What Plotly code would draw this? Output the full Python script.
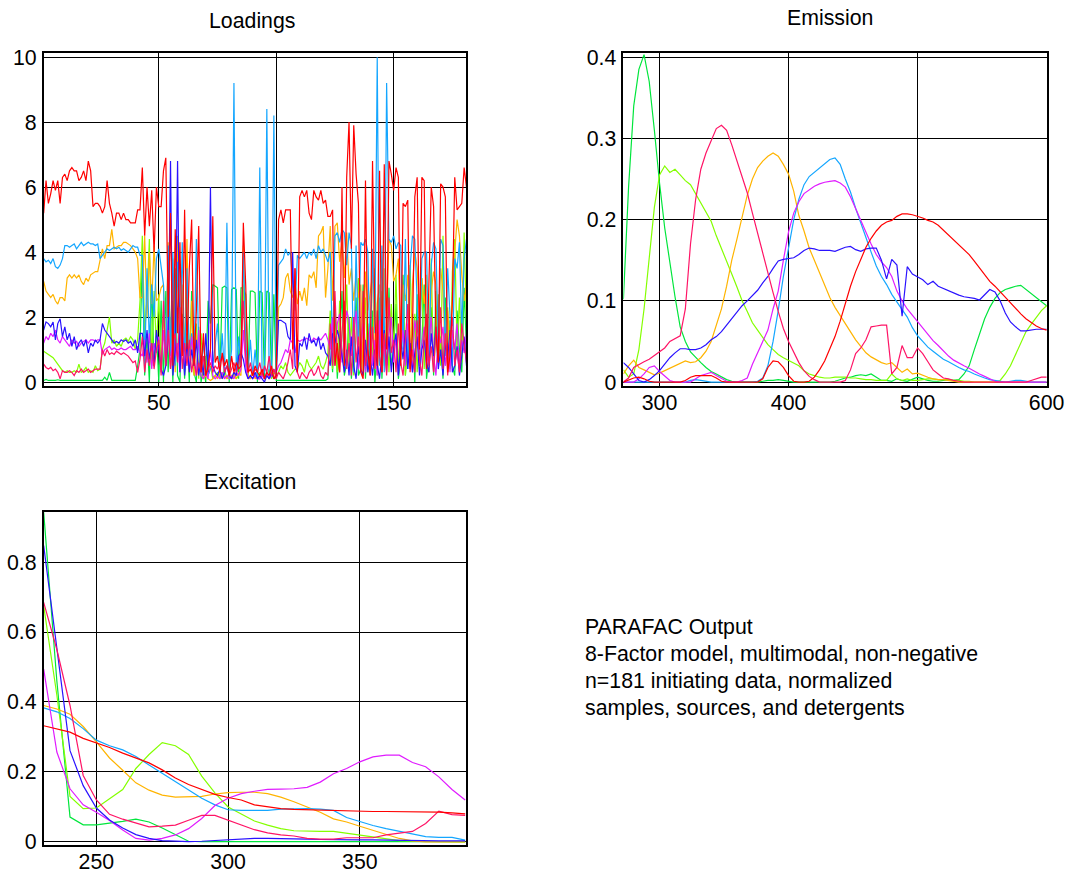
import plotly.graph_objects as go

# ---------------- Loadings (sample index 1..181) ----------------
sample_idx = list(range(1, 182))

load_red = [
    5.2, 6.2, 5.5, 5.8, 6.2, 5.9, 6.2, 5.5, 6.3, 6.4,
    6.2, 6.5, 6.6, 6.5, 6.5, 6.2, 6.3, 6.5, 6.2, 6.8,
    6.5, 5.4, 5.5, 5.5, 5.4, 5.2, 5.4, 6.2, 5.5, 5.2,
    4.8, 5.2, 5.2, 5.0, 5.2, 5.0, 5.0, 4.9, 4.9, 4.9,
    5.3, 5.3, 6.6, 4.5, 6.0, 4.8, 5.9, 4.0, 6.0, 5.4,
    5.4, 6.5, 6.9, 2.0, 5.2, 0.5, 4.7, 1.5, 4.3, 0.8,
    5.3, 1.0, 3.5, 5.0, 0.5, 2.2, 4.8, 0.3, 1.5, 0.2,
    0.5, 1.0, 5.1, 0.6, 0.8, 0.3, 0.9, 0.5, 0.7, 0.2,
    0.8, 0.3, 0.6, 0.4, 0.5, 4.9, 3.0, 0.3, 0.4, 0.2,
    0.5, 0.3, 0.2, 0.4, 0.1, 0.3, 0.2, 0.5, 0.1, 0.2,
    5.0, 5.3, 4.9, 5.3, 5.3, 5.3, 1.0, 3.5, 0.3, 5.7,
    5.9, 5.7, 5.9, 5.2, 5.0, 5.9, 5.7, 5.6, 5.9, 5.5,
    5.6, 5.1, 5.1, 5.3, 0.5, 1.2, 0.3, 6.0, 0.5, 6.3,
    8.0, 4.1, 7.9, 6.4, 5.5, 0.3, 0.1, 6.2, 1.0, 0.2,
    6.8, 2.0, 0.5, 6.5, 0.3, 6.7, 1.0, 6.8, 6.4, 5.9,
    6.6, 6.3, 0.5, 5.5, 5.4, 5.6, 0.3, 1.5, 5.7, 6.3,
    1.0, 6.3, 6.2, 0.4, 3.0, 6.0, 5.4, 1.5, 0.6, 6.1,
    6.0, 5.7, 0.3, 0.8, 2.5, 6.3, 5.3, 5.4, 5.5, 6.6,
    6.0,
]
load_sky = [
    3.8, 3.7, 3.75, 3.65, 3.8, 3.55, 3.5, 3.6, 3.8, 4.2,
    4.2, 4.15, 4.2, 4.25, 4.1, 4.2, 4.3, 4.2, 4.25, 4.3,
    4.25, 4.25, 4.2, 4.25, 3.8, 3.9, 4.0, 4.1, 4.05, 4.1,
    4.15, 4.1, 4.15, 4.05, 4.1, 4.05, 4.0, 4.1, 4.2, 4.15,
    4.15, 3.9, 3.9, 0.5, 3.5, 1.2, 3.0, 2.0, 3.8, 4.1,
    3.6, 3.0, 0.5, 4.2, 0.8, 4.0, 0.5, 3.7, 1.0, 4.3,
    0.3, 3.5, 0.8, 1.5, 0.5, 4.4, 1.0, 0.3, 1.2, 0.5,
    0.2, 0.4, 0.5, 1.2, 1.8, 0.3, 1.5, 0.2, 4.9, 0.3,
    1.0, 9.2, 0.2, 1.4, 0.5, 4.0, 1.2, 0.3, 1.3, 0.2,
    1.0, 0.1, 6.6, 0.2, 0.3, 8.4, 0.1, 0.2, 8.2, 0.3,
    3.6, 3.7, 3.8, 4.1, 3.9, 4.0, 3.2, 2.2, 3.9, 3.8,
    3.9, 4.0, 3.8, 4.0, 3.9, 4.1, 3.8, 4.2, 4.0, 4.1,
    3.9, 3.7, 4.0, 0.8, 4.5, 4.6, 4.3, 4.7, 4.6, 3.6,
    4.6, 4.2, 0.3, 4.2, 1.0, 4.3, 4.2, 4.4, 4.0, 0.5,
    4.1, 1.5, 10.0, 0.5, 4.2, 0.3, 9.2, 4.4, 4.3, 4.5,
    4.1, 4.3, 4.2, 1.0, 4.4, 0.4, 3.5, 4.5, 4.4, 2.5,
    0.5, 3.8, 4.0, 4.0, 0.5, 3.6, 4.3, 4.1, 1.2, 4.4,
    4.2, 0.8, 3.5, 2.0, 0.5, 3.8, 3.5, 4.3, 1.5, 3.8,
    4.4,
]
load_orange = [
    3.1, 2.8, 2.7, 2.6, 2.7, 2.5, 2.4, 2.6, 2.6, 2.5,
    3.2, 3.3, 3.2, 3.3, 3.2, 3.3, 3.1, 3.0, 3.2, 3.1,
    3.3, 3.35, 3.4, 3.4, 3.8, 4.1, 3.8, 4.2, 4.2, 4.7,
    4.1, 4.15, 4.2, 4.2, 4.3, 4.3, 4.25, 4.2, 4.1, 4.0,
    3.8, 2.6, 2.6, 4.5, 2.0, 4.0, 2.4, 4.2, 2.5, 2.6,
    2.9, 3.0, 0.5, 4.3, 1.0, 3.8, 0.3, 4.5, 1.2, 3.0,
    0.8, 4.4, 0.3, 2.5, 0.2, 1.5, 0.3, 0.8, 0.1, 0.2,
    0.1, 0.05, 0.1, 0.2, 0.1, 0.3, 0.1, 0.2, 0.1, 0.3,
    0.1, 0.2, 0.1, 0.3, 0.2, 4.2, 1.0, 0.2, 0.1, 0.3,
    0.1, 0.2, 0.1, 0.3, 0.1, 0.2, 0.1, 0.3, 0.2, 0.1,
    2.3, 2.4, 2.6, 3.2, 3.35, 2.8, 2.6, 3.0, 2.4, 2.8,
    2.5, 2.9, 2.35, 3.3, 3.2, 3.4, 2.9, 4.5, 4.6, 4.8,
    2.6, 3.5, 4.8, 2.5, 4.8, 4.9, 3.7, 4.3, 3.2, 4.6,
    3.0, 3.5, 2.5, 3.3, 2.6, 3.0, 0.2, 3.4, 2.2, 2.8,
    3.3, 0.4, 2.4, 3.0, 1.0, 3.5, 2.0, 4.4, 4.2, 3.1,
    3.3, 3.8, 1.2, 3.0, 2.5, 3.3, 0.5, 3.0, 4.0, 3.5,
    2.0, 3.2, 2.4, 3.3, 0.3, 2.8, 3.4, 3.0, 1.5, 3.5,
    2.8, 0.8, 2.2, 1.0, 2.5, 4.0, 5.0, 4.5, 3.3, 2.5,
    3.0,
]
load_blue = [
    1.6, 1.85, 1.8, 1.7, 1.85, 1.3, 1.8, 1.95, 1.4, 1.7,
    1.3, 1.5, 1.1, 1.4, 1.0, 1.2, 1.3, 1.1, 1.3, 0.9,
    1.2, 1.1, 1.3, 1.2, 1.3, 1.8, 1.6, 1.5, 1.4, 1.3,
    1.2, 1.25, 1.2, 1.3, 1.25, 1.3, 1.2, 1.25, 1.1, 1.3,
    0.9, 1.5, 1.5, 0.8, 1.6, 0.7, 1.2, 0.5, 1.6, 1.0,
    0.4, 0.2, 0.5, 1.3, 6.8, 0.2, 1.0, 6.8, 0.3, 1.5,
    0.2, 1.2, 0.3, 1.0, 0.5, 1.3, 0.2, 0.8, 0.2, 1.5,
    0.3, 6.0, 0.5, 0.3, 0.2, 0.4, 0.1, 0.3, 0.5, 0.2,
    0.1, 0.3, 0.2, 0.8, 0.9, 0.7, 0.3, 0.1, 0.2, 0.1,
    0.3, 0.1, 0.2, 0.1, 0.0, 0.2, 0.1, 0.3, 0.1, 0.2,
    1.9, 1.9, 1.85, 1.8, 1.4, 1.3, 4.0, 0.5, 0.3, 1.2,
    1.1, 1.4, 1.0, 1.5, 1.2, 1.3, 1.1, 1.4, 1.0, 1.2,
    0.9, 0.8, 0.5, 1.5, 1.2, 1.6, 1.3, 0.8, 0.3, 1.0,
    0.2, 1.4, 0.5, 0.1, 1.1, 0.4, 0.2, 1.3, 0.3, 0.8,
    0.2, 1.0, 0.6, 0.1, 0.9, 1.6, 0.5, 1.4, 0.3, 1.1,
    1.5, 0.2, 1.3, 0.7, 1.6, 0.4, 1.2, 0.3, 0.9, 1.4,
    0.2, 1.0, 1.3, 0.6, 0.3, 1.5, 0.8, 1.7, 0.4, 1.0,
    0.2, 1.2, 0.7, 1.6, 0.3, 0.5, 1.1, 0.2, 0.8, 1.4,
    0.5,
]
load_magenta = [
    1.2, 1.4, 1.3, 1.5, 1.4, 1.6, 1.3, 1.2, 1.4, 1.3,
    1.2, 1.1, 1.3, 1.2, 1.25, 1.1, 1.2, 1.25, 1.3, 1.2,
    1.3, 1.3, 1.25, 1.3, 1.3, 0.85, 1.0, 1.05, 1.1, 1.0,
    1.05, 1.0, 1.0, 1.05, 1.0, 1.0, 1.05, 1.1, 1.0, 1.0,
    1.1, 0.9, 0.8, 1.3, 0.6, 1.5, 0.4, 1.2, 0.9, 1.4,
    0.3, 1.6, 0.5, 1.9, 0.4, 1.5, 0.8, 1.2, 0.3, 1.7,
    0.5, 1.0, 0.4, 1.4, 0.6, 0.2, 1.6, 0.2, 0.1, 0.3,
    0.1, 1.0, 0.2, 0.1, 0.2, 0.1, 0.3, 0.1, 0.2, 0.1,
    0.2, 0.1, 0.3, 0.2, 0.4, 1.6, 0.5, 0.1, 0.2, 0.1,
    0.2, 0.1, 0.1, 0.2, 0.1, 0.3, 0.1, 0.2, 0.4, 0.3,
    0.5, 0.6, 0.8, 1.0, 0.9, 1.3, 1.2, 0.9, 1.3, 1.25,
    1.3, 1.3, 1.35, 1.3, 1.25, 1.35, 1.3, 1.35, 1.3, 1.4,
    1.5, 1.3, 1.0, 2.0, 0.5, 1.8, 2.1, 0.6, 1.5, 2.2,
    1.9, 0.8, 1.6, 2.2, 0.4, 1.2, 1.8, 0.3, 1.0, 1.7,
    0.5, 1.3, 0.2, 1.9, 0.7, 1.1, 0.3, 1.5, 2.0, 0.6,
    1.4, 0.2, 1.0, 1.6, 0.5, 1.8, 1.2, 0.3, 1.9, 1.4,
    0.6, 1.1, 1.7, 0.4, 1.3, 2.0, 0.8, 0.2, 1.5, 1.2,
    1.7, 0.5, 1.2, 0.3, 1.6, 1.0, 1.8, 0.4, 1.3, 0.9,
    1.5,
]
load_chartreuse = [
    0.95, 0.9, 0.85, 0.8, 0.75, 0.65, 0.55, 0.45, 0.35, 0.3,
    0.35, 0.3, 0.3, 0.35, 0.3, 0.55, 0.3, 0.35, 0.45, 0.3,
    0.35, 0.3, 0.5, 0.35, 0.4, 1.0, 1.2, 1.6, 2.0, 1.2,
    1.3, 1.1, 1.2, 1.1, 1.3, 1.35, 1.25, 1.4, 1.3, 1.0,
    1.3, 2.5, 4.5, 1.5, 2.6, 4.4, 0.5, 2.8, 1.0, 2.7,
    0.3, 2.2, 0.5, 3.8, 0.8, 2.5, 1.5, 4.3, 0.3, 2.0,
    0.8, 3.3, 0.6, 1.2, 0.2, 1.8, 0.1, 1.5, 0.3, 0.8,
    0.2, 0.5, 0.1, 0.2, 0.3, 0.1, 0.2, 0.4, 0.1, 0.2,
    0.1, 0.3, 0.1, 0.2, 0.5, 3.0, 0.8, 0.2, 0.1, 0.3,
    0.2, 0.1, 0.3, 0.2, 0.1, 0.2, 0.4, 0.1, 0.3, 0.2,
    0.3, 0.5, 0.4, 0.6, 0.3, 0.2, 0.3, 0.4, 0.4, 0.6,
    0.5, 0.3, 0.7, 0.5, 0.4, 0.5, 0.6, 0.8, 0.5, 0.4,
    0.6, 0.9, 2.2, 0.4, 1.6, 0.3, 2.5, 0.8, 1.2, 3.0,
    0.5, 2.0, 0.2, 1.5, 3.2, 0.4, 1.1, 2.6, 0.3, 1.8,
    0.6, 3.5, 0.2, 1.4, 2.8, 0.5, 1.9, 0.3, 2.4, 1.0,
    3.3, 0.4, 1.7, 2.9, 0.2, 1.3, 3.6, 0.6, 2.1, 0.3,
    1.5, 3.2, 0.4, 2.0, 1.1, 3.8, 0.3, 1.6, 2.7, 0.5,
    4.5, 1.2, 2.3, 0.4, 3.4, 4.4, 1.0, 2.6, 0.6, 4.6,
    1.8,
]
load_crimson = [
    0.55, 0.45, 0.4, 0.45, 0.35, 0.4, 0.3, 0.1, 0.35, 0.3,
    0.3, 0.35, 0.3, 0.2, 0.35, 0.3, 0.4, 0.3, 0.35, 0.4,
    0.3, 0.35, 0.4, 0.4, 0.4, 1.0, 0.8, 1.0, 0.85, 0.9,
    0.85, 0.95, 0.9, 0.85, 0.9, 0.85, 0.8, 0.7, 0.6, 0.65,
    0.3, 0.7, 1.4, 0.3, 1.0, 0.5, 1.2, 0.4, 1.0, 1.3,
    0.2, 2.5, 0.5, 1.6, 0.4, 1.2, 1.5, 0.6, 2.3, 0.4,
    1.2, 0.5, 1.3, 0.3, 0.8, 0.2, 0.6, 0.3, 0.8, 0.2,
    0.4, 0.6, 0.3, 0.5, 0.4, 0.6, 0.8, 0.3, 0.5, 0.2,
    0.4, 0.6, 0.3, 0.5, 1.0, 2.5, 0.8, 0.3, 0.6, 0.2,
    0.4, 0.3, 0.6, 0.2, 0.5, 0.3, 0.8, 0.2, 0.4, 0.1,
    0.3, 0.2, 0.1, 0.3, 0.6, 1.0, 0.4, 3.5, 0.3, 0.1,
    0.3, 0.2, 0.1, 0.3, 0.4, 0.2, 0.3, 0.5, 0.2, 0.1,
    0.3, 0.2, 1.8, 0.5, 2.8, 0.8, 0.3, 1.5, 2.5, 0.4,
    1.2, 0.2, 2.0, 0.6, 1.4, 0.3, 2.8, 0.5, 1.0, 0.2,
    1.7, 0.4, 2.2, 0.8, 0.3, 1.5, 0.2, 2.6, 0.9, 1.3,
    0.3, 1.8, 0.6, 0.2, 1.2, 2.4, 0.4, 1.0, 0.3, 1.9,
    0.7, 0.2, 1.4, 2.1, 0.5, 1.1, 0.3, 1.7, 0.6, 2.3,
    0.4, 1.5, 0.2, 1.3, 2.0, 0.5, 1.0, 0.3, 1.8, 1.2,
    0.6,
]
load_green = [
    0.05, 0.08, 0.05, 0.06, 0.05, 0.05, 0.07, 0.05, 0.05, 0.06,
    0.05, 0.05, 0.06, 0.05, 0.05, 0.05, 0.06, 0.05, 0.05, 0.05,
    0.05, 0.05, 0.05, 0.05, 0.05, 0.05, 0.15, 0.05, 0.3, 0.05,
    0.05, 0.05, 0.05, 0.05, 0.05, 0.05, 0.05, 0.05, 0.05, 0.05,
    0.5, 1.0, 3.9, 0.2, 1.4, 0.0, 3.0, 0.5, 1.6, 0.0,
    2.5, 0.0, 2.8, 0.3, 2.0, 0.0, 3.5, 0.2, 0.0, 2.1,
    0.1, 1.5, 0.0, 2.8, 0.3, 0.0, 1.7, 0.0, 0.4, 0.0,
    2.5, 1.8, 3.0, 2.95, 2.9, 0.1, 2.9, 2.95, 2.9, 0.0,
    2.85, 2.9, 2.85, 0.1, 2.9, 2.9, 2.7, 0.2, 2.8, 2.8,
    2.75, 0.0, 2.8, 2.75, 0.1, 2.8, 2.75, 0.2, 2.7, 0.05,
    0.05, 0.05, 0.06, 0.05, 0.05, 0.05, 0.05, 0.06, 0.05, 0.05,
    0.05, 0.05, 0.05, 0.06, 0.05, 0.05, 0.05, 0.05, 0.06, 0.05,
    0.05, 0.1, 1.5, 0.3, 2.4, 0.1, 1.2, 2.8, 0.2, 0.6,
    2.0, 0.1, 1.1, 2.6, 0.2, 0.4, 3.0, 0.1, 1.8, 0.5,
    2.2, 0.0, 0.9, 2.6, 0.1, 1.6, 0.3, 2.9, 0.5, 1.0,
    2.4, 0.1, 0.7, 3.3, 0.2, 1.5, 0.4, 2.1, 0.0, 2.7,
    0.5, 1.2, 3.0, 0.1, 0.8, 2.3, 0.2, 2.8, 0.6, 1.4,
    0.1, 2.6, 0.3, 1.9, 0.5, 0.2, 2.2, 1.0, 0.3, 2.9,
    1.0,
]

# ---------------- Emission spectra (nm) ----------------
em_wl = list(range(272, 601, 4))

em_green = [
    0.102, 0.24, 0.34, 0.385, 0.403, 0.37, 0.31, 0.245, 0.19, 0.145,
    0.105, 0.068, 0.05, 0.037, 0.03, 0.024, 0.018, 0.013, 0.01, 0.006,
    0.003, 0.001, 0.0, 0.0, 0.0, 0.0, 0.0, 0.001, 0.002, 0.002,
    0.003, 0.002, 0.001, 0.0, 0.0, 0.0, 0.0, 0.0, 0.0, 0.0,
    0.0, 0.001, 0.003, 0.005, 0.006, 0.008, 0.009, 0.008, 0.01, 0.006,
    0.002, 0.002, 0.001, 0.004, 0.002, 0.001, 0.004, 0.006, 0.004, 0.002,
    0.001, 0.001, 0.002, 0.003, 0.002, 0.003, 0.01, 0.02, 0.04, 0.058,
    0.078, 0.092, 0.103, 0.11, 0.114, 0.116, 0.118, 0.119, 0.114, 0.108,
    0.104, 0.098, 0.094,
]
em_chartreuse = [
    0.015, 0.006, 0.01, 0.04, 0.09, 0.15, 0.215, 0.255, 0.266, 0.258,
    0.262, 0.255, 0.248, 0.243, 0.232, 0.22, 0.21, 0.198, 0.18, 0.165,
    0.15, 0.133, 0.117, 0.1, 0.087, 0.073, 0.064, 0.055, 0.046, 0.04,
    0.034, 0.03, 0.027, 0.024, 0.02, 0.014, 0.01, 0.008, 0.006, 0.005,
    0.005, 0.006, 0.006, 0.006, 0.005, 0.005, 0.004, 0.003, 0.003, 0.002,
    0.002, 0.002, 0.01, 0.004, 0.002, 0.004, 0.002, 0.002, 0.003, 0.004,
    0.004, 0.003, 0.003, 0.003, 0.002, 0.002, 0.001, 0.001, 0.0, 0.0,
    0.0, 0.0, 0.0, 0.002, 0.01, 0.02, 0.034, 0.048, 0.062, 0.071,
    0.08, 0.088, 0.094,
]
em_crimson = [
    0.0, 0.005, 0.018, 0.022, 0.025, 0.028, 0.033, 0.037, 0.042, 0.05,
    0.054, 0.057, 0.09, 0.17, 0.225, 0.262, 0.282, 0.298, 0.312, 0.316,
    0.31, 0.292, 0.272, 0.252, 0.233, 0.208, 0.183, 0.158, 0.133, 0.11,
    0.087, 0.066, 0.05, 0.036, 0.024, 0.014, 0.007, 0.003, 0.0, 0.0,
    0.0, 0.0, 0.0, 0.002, 0.015, 0.035, 0.042, 0.052, 0.068, 0.069,
    0.07, 0.07, 0.01, 0.018, 0.045, 0.03, 0.03, 0.042, 0.035, 0.025,
    0.015, 0.01, 0.005, 0.004, 0.002, 0.001, 0.0, 0.0, 0.0, 0.0,
    0.0, 0.0, 0.0, 0.0, 0.0, 0.0, 0.0, 0.0, 0.0, 0.002,
    0.004, 0.006, 0.006,
]
em_orange = [
    0.01, 0.02, 0.027, 0.018, 0.015, 0.012, 0.009, 0.011, 0.014, 0.018,
    0.021, 0.024, 0.026, 0.024, 0.025, 0.03, 0.038, 0.05, 0.07, 0.09,
    0.118, 0.15, 0.176, 0.205, 0.23, 0.25, 0.264, 0.272, 0.278, 0.282,
    0.278, 0.268, 0.256, 0.235, 0.205, 0.186, 0.165, 0.15, 0.135, 0.118,
    0.104, 0.092, 0.082, 0.072, 0.061, 0.052, 0.044, 0.036, 0.031, 0.027,
    0.024, 0.022, 0.024, 0.018, 0.012, 0.016, 0.01, 0.011, 0.008, 0.006,
    0.004, 0.003, 0.003, 0.002, 0.001, 0.0, 0.0, 0.0, 0.0, 0.0,
    0.0, 0.0, 0.0, 0.0, 0.0, 0.0, 0.0, 0.0, 0.0, 0.0,
    0.0, 0.0, 0.0,
]
em_blue = [
    0.024, 0.018, 0.01, 0.002, 0.0, 0.003, 0.008, 0.014, 0.022, 0.03,
    0.036, 0.041, 0.041, 0.04, 0.04, 0.042, 0.046, 0.052, 0.056, 0.062,
    0.07, 0.078, 0.086, 0.094, 0.1, 0.106, 0.113, 0.122, 0.13, 0.14,
    0.149, 0.151, 0.152, 0.153, 0.157, 0.162, 0.165, 0.164, 0.162, 0.162,
    0.162, 0.161, 0.164, 0.166, 0.167, 0.163, 0.161, 0.164, 0.165, 0.165,
    0.15, 0.127, 0.151, 0.144, 0.081, 0.142, 0.133, 0.13, 0.126, 0.12,
    0.124, 0.118, 0.115, 0.112, 0.109, 0.107, 0.105, 0.104, 0.103, 0.101,
    0.108, 0.114, 0.111, 0.1, 0.085, 0.074, 0.068, 0.063, 0.063, 0.064,
    0.065, 0.065, 0.065,
]
em_sky = [
    0.0, 0.0, 0.0, 0.0, 0.0, 0.0, 0.0, 0.0, 0.0, 0.0,
    0.0, 0.0, 0.0, 0.002, 0.003, 0.002, 0.001, 0.0, 0.0, 0.0,
    0.0, 0.0, 0.0, 0.0, 0.0, 0.0, 0.001, 0.005, 0.02, 0.05,
    0.088, 0.13, 0.165, 0.2, 0.225, 0.243, 0.253, 0.258, 0.263, 0.268,
    0.274, 0.276, 0.268, 0.25, 0.234, 0.214, 0.195, 0.178, 0.16, 0.143,
    0.13, 0.12, 0.108, 0.099, 0.09, 0.08, 0.067, 0.057, 0.05, 0.043,
    0.038, 0.033, 0.028, 0.025, 0.021, 0.018, 0.015, 0.013, 0.01, 0.007,
    0.005, 0.003, 0.002, 0.001, 0.0, 0.001, 0.002, 0.002, 0.001, 0.0,
    0.0, 0.0, 0.0,
]
em_magenta = [
    0.0, 0.0, 0.0, 0.004, 0.01, 0.018, 0.02, 0.013, 0.007, 0.002,
    0.0, 0.0, 0.0, 0.0, 0.004, 0.008, 0.01, 0.012, 0.008, 0.004,
    0.001, 0.0, 0.0, 0.002, 0.005, 0.022, 0.036, 0.048, 0.064, 0.09,
    0.112, 0.15, 0.185, 0.208, 0.222, 0.232, 0.237, 0.241, 0.244, 0.246,
    0.247, 0.248, 0.245, 0.24, 0.228, 0.213, 0.198, 0.184, 0.17, 0.157,
    0.148, 0.141, 0.13, 0.112, 0.1, 0.09, 0.082, 0.074, 0.066, 0.058,
    0.051, 0.045, 0.038, 0.032, 0.027, 0.023, 0.02, 0.017, 0.013, 0.01,
    0.007, 0.004, 0.001, 0.0, 0.0, 0.0, 0.0, 0.0, 0.0, 0.0,
    0.0, 0.0, 0.0,
]
em_red = [
    0.0, 0.003, 0.005, 0.006, 0.004, 0.001, 0.0, 0.0, 0.0, 0.0,
    0.0, 0.0, 0.002, 0.006, 0.008, 0.008, 0.008, 0.008, 0.005, 0.001,
    0.0, 0.0, 0.0, 0.0, 0.0, 0.0, 0.0, 0.004, 0.018, 0.026,
    0.025, 0.018, 0.008, 0.001, 0.0, 0.0, 0.001, 0.006, 0.015, 0.026,
    0.04, 0.056, 0.075, 0.098, 0.118, 0.136, 0.152, 0.166, 0.177, 0.186,
    0.193, 0.197, 0.199, 0.204, 0.207, 0.207, 0.206, 0.204, 0.202, 0.199,
    0.197, 0.193, 0.187, 0.182, 0.176, 0.17, 0.164, 0.157, 0.149, 0.141,
    0.133, 0.124, 0.118, 0.111, 0.104, 0.097, 0.09, 0.084, 0.078, 0.073,
    0.069, 0.066, 0.064,
]

# ---------------- Excitation spectra (nm) ----------------
ex_wl = list(range(230, 391, 5))

ex_green = [
    0.942, 0.46, 0.071, 0.049, 0.049, 0.053, 0.059, 0.065, 0.057, 0.04,
    0.02, 0.002, 0.001, 0.001, 0.001, 0.001, 0.001, 0.001, 0.001, 0.001,
    0.001, 0.001, 0.001, 0.001, 0.001, 0.001, 0.001, 0.001, 0.001, 0.001,
    0.001, 0.001, 0.001,
]
ex_chartreuse = [
    0.675, 0.42, 0.13, 0.095, 0.097, 0.123, 0.15, 0.21, 0.25, 0.284,
    0.275, 0.25, 0.188, 0.14, 0.1, 0.08, 0.06, 0.048, 0.038, 0.032,
    0.03, 0.03, 0.03, 0.025, 0.02, 0.015, 0.008, 0.004, 0.002, 0.001,
    0.0, 0.0, 0.0,
]
ex_red = [
    0.332, 0.322, 0.314, 0.296, 0.283, 0.27, 0.254, 0.24, 0.226, 0.206,
    0.183, 0.164, 0.15, 0.136, 0.127, 0.12, 0.106, 0.1, 0.095, 0.093,
    0.092, 0.09, 0.088, 0.087, 0.087, 0.087, 0.087, 0.087, 0.087, 0.087,
    0.085, 0.083, 0.08,
]
ex_sky = [
    0.383, 0.372, 0.353, 0.324, 0.291, 0.275, 0.263, 0.244, 0.22, 0.196,
    0.172, 0.148, 0.125, 0.106, 0.092, 0.09, 0.09, 0.09, 0.094, 0.095,
    0.095, 0.094, 0.09, 0.07, 0.058, 0.047, 0.038, 0.03, 0.022, 0.015,
    0.013, 0.013, 0.005,
]
ex_orange = [
    0.39, 0.38, 0.365, 0.33, 0.286, 0.24, 0.205, 0.169, 0.148, 0.134,
    0.128, 0.128, 0.13, 0.137, 0.141, 0.142, 0.142, 0.138, 0.128, 0.115,
    0.1, 0.085, 0.066, 0.057, 0.045, 0.034, 0.022, 0.01, 0.003, 0.0,
    0.0, 0.0, 0.0,
]
ex_blue = [
    0.847, 0.55, 0.261, 0.161, 0.097, 0.063, 0.04, 0.021, 0.01, 0.004,
    0.002, 0.001, 0.002, 0.004, 0.006, 0.009, 0.01, 0.01, 0.01, 0.01,
    0.008, 0.007, 0.006, 0.006, 0.006, 0.006, 0.005, 0.005, 0.004, 0.004,
    0.003, 0.003, 0.003,
]
ex_magenta = [
    0.494, 0.257, 0.152, 0.106, 0.085, 0.061, 0.034, 0.01, 0.005, 0.01,
    0.02, 0.038, 0.067, 0.104, 0.125, 0.138, 0.145, 0.15, 0.151, 0.152,
    0.156, 0.171, 0.195, 0.21, 0.229, 0.243, 0.248, 0.248, 0.227, 0.215,
    0.186, 0.15, 0.12,
]
ex_crimson = [
    0.685, 0.55, 0.39, 0.19, 0.12, 0.079, 0.065, 0.053, 0.043, 0.045,
    0.048, 0.062, 0.076, 0.076, 0.063, 0.048, 0.035, 0.026, 0.02, 0.017,
    0.01, 0.008, 0.008, 0.012, 0.012, 0.012, 0.02, 0.026, 0.03, 0.053,
    0.088, 0.078, 0.076,
]

# ---------------- Styling ----------------
COLORS = {
    "red": "#ff0000",
    "sky": "#14a6ff",
    "orange": "#ffb400",
    "blue": "#2a12ff",
    "magenta": "#e01cff",
    "chartreuse": "#84ff00",
    "green": "#00e63c",
    "crimson": "#ff1466",
}
FONT = "Liberation Sans, Arial, sans-serif"
W, H = 1100, 878

# Layout positions are given in screen pixels; these factors map them to
# figure pixels for the page as it is displayed.
SX, XOFF = 0.985, -0.7
SY, TOP = 0.982, 8
FS = 21.3


def px_x(px):
    return ((px - XOFF) / SX) / W


def px_y(py):
    return 1 - (py / SY - TOP) / H


panels = [
    ("x", "y", sample_idx, {
        "green": load_green, "chartreuse": load_chartreuse, "orange": load_orange,
        "sky": load_sky, "magenta": load_magenta, "blue": load_blue,
        "crimson": load_crimson, "red": load_red}),
    ("x2", "y2", em_wl, {
        "green": em_green, "chartreuse": em_chartreuse, "orange": em_orange,
        "sky": em_sky, "magenta": em_magenta, "blue": em_blue,
        "crimson": em_crimson, "red": em_red}),
    ("x3", "y3", ex_wl, {
        "green": ex_green, "chartreuse": ex_chartreuse, "orange": ex_orange,
        "sky": ex_sky, "magenta": ex_magenta, "blue": ex_blue,
        "crimson": ex_crimson, "red": ex_red}),
]

fig = go.Figure()
for xa, ya, xs, series in panels:
    for name, ys in series.items():
        assert len(ys) == len(xs), (xa, name, len(ys), len(xs))
        fig.add_trace(go.Scatter(
            x=xs, y=ys, mode="lines", xaxis=xa, yaxis=ya,
            line=dict(color=COLORS[name], width=1.2),
            showlegend=False, hoverinfo="skip",
        ))


def axis(domain, rng, standoff, **kw):
    d = dict(
        domain=domain, range=rng, showgrid=True, gridcolor="black", gridwidth=1.4,
        showline=True, linecolor="black", linewidth=1.6, mirror=True,
        zeroline=False, ticks="", ticklabelstandoff=standoff,
        tickfont=dict(family=FONT, size=FS, color="black"),
    )
    d.update(kw)
    return d


left_dom = [px_x(43), px_x(466)]
right_dom = [px_x(623), px_x(1047)]
top_dom = [px_y(387), px_y(54)]
bot_dom = [px_y(846), px_y(513)]

XSO, YSO = -3, 1

fig.update_layout(
    width=W, height=H, autosize=False,
    margin=dict(l=0, r=0, t=0, b=0, pad=0),
    paper_bgcolor="white", plot_bgcolor="white",
    showlegend=False,
    xaxis=axis(left_dom, [1, 181], XSO, anchor="y", tickvals=[50, 100, 150]),
    yaxis=axis(top_dom, [-0.123, 10.123], YSO, anchor="x", tickvals=[0, 2, 4, 6, 8, 10]),
    xaxis2=axis(right_dom, [272, 600.5], XSO, anchor="y2", tickvals=[300, 400, 500, 600]),
    yaxis2=axis(top_dom, [-0.0049, 0.4049], YSO, anchor="x2",
                tickvals=[0, 0.1, 0.2, 0.3, 0.4], ticktext=["0", "0.1", "0.2", "0.3", "0.4"]),
    xaxis3=axis(left_dom, [230, 390.5], XSO, anchor="y3", tickvals=[250, 300, 350]),
    yaxis3=axis(bot_dom, [-0.0086, 0.943], YSO, anchor="x3",
                tickvals=[0, 0.2, 0.4, 0.6, 0.8], ticktext=["0", "0.2", "0.4", "0.6", "0.8"]),
)

titles = [("Loadings", 251, 22), ("Emission", 830, 19), ("Excitation", 249, 483)]
for text, cx, cy in titles:
    fig.add_annotation(
        text=text, x=px_x(cx), y=px_y(cy), xref="paper", yref="paper",
        xanchor="center", yanchor="middle", showarrow=False,
        font=dict(family=FONT, size=FS, color="black"),
    )

notes = [
    "PARAFAC Output",
    "8-Factor model, multimodal, non-negative",
    "n=181 initiating data, normalized",
    "samples, sources, and detergents",
]
for k, line in enumerate(notes):
    fig.add_annotation(
        text=line, x=px_x(583), y=px_y(628 + 27 * k), xref="paper", yref="paper",
        xanchor="left", yanchor="middle", showarrow=False,
        font=dict(family=FONT, size=FS, color="black"),
    )

fig.write_html("out.html", config={"responsive": False})
